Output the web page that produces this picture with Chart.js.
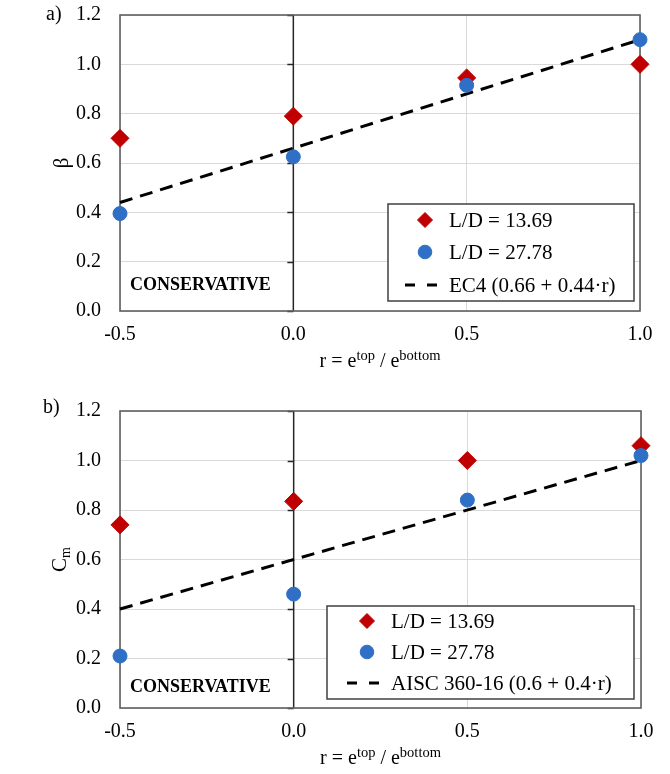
<!DOCTYPE html>
<html><head><meta charset="utf-8">
<script src="https://cdn.jsdelivr.net/npm/chart.js@4.4.1/dist/chart.umd.min.js"></script>
<style>
html,body{margin:0;padding:0;background:#fff;}
#wrap{position:relative;width:670px;height:774px;}
.panel{position:absolute;left:0;width:670px;}
canvas{display:block;}
</style></head><body>
<div id="wrap">
<div class="panel" style="top:0;height:390px"><canvas id="ca" width="670" height="390"></canvas></div>
<div class="panel" style="top:390px;height:384px"><canvas id="cb" width="670" height="384"></canvas></div>
</div>
<script>
// ---- data ----
const rValues = [-0.5, 0.0, 0.5, 1.0];
const betaLD1369 = [0.70, 0.79, 0.945, 1.00];
const betaLD2778 = [0.395, 0.625, 0.915, 1.10];
const ec4LineR = [-0.5, 1.0];
const ec4LineY = [0.44, 1.10];
const cmLD1369 = [0.74, 0.835, 1.00, 1.06];
const cmLD2778 = [0.21, 0.46, 0.84, 1.02];
const aiscLineR = [-0.5, 1.0];
const aiscLineY = [0.40, 1.00];
const xTickLabels = ['-0.5', '0.0', '0.5', '1.0'];
const yTickLabels = ['0.0', '0.2', '0.4', '0.6', '0.8', '1.0', '1.2'];
const seriesLabels = ['L/D = 13.69', 'L/D = 27.78'];
const lineLabels = ['EC4 (0.66 + 0.44\u00B7r)', 'AISC 360-16 (0.6 + 0.4\u00B7r)'];

const SERIF = "'Liberation Serif','Times New Roman',serif";
const RED = '#C00000';
const BLUE = '#2F6FC6';

function zip(xs, ys) { return xs.map((x, i) => ({x: x, y: ys[i]})); }

const deco = {
  id: 'deco',
  beforeDatasetsDraw(chart, args, o) {
    const {ctx, chartArea: a, scales: {x, y}} = chart;
    ctx.save();
    const x0 = x.getPixelForValue(0);
    ctx.strokeStyle = '#262626';
    ctx.lineWidth = 1.5;
    ctx.beginPath(); ctx.moveTo(x0, a.top); ctx.lineTo(x0, a.bottom); ctx.stroke();
    y.ticks.forEach(t => {
      const py = Math.round(y.getPixelForValue(t.value)) + 0.5;
      ctx.beginPath(); ctx.moveTo(x0 - 6, py); ctx.lineTo(x0, py); ctx.stroke();
    });
    ctx.strokeStyle = '#5f5f5f';
    ctx.lineWidth = 1.6;
    ctx.strokeRect(a.left, a.top, a.right - a.left, a.bottom - a.top);
    ctx.restore();
  },
  afterDraw(chart, args, o) {
    const {ctx, chartArea: a} = chart;
    ctx.save();
    ctx.fillStyle = '#000';
    // panel label
    ctx.font = '20px ' + SERIF;
    ctx.textBaseline = 'middle';
    ctx.textAlign = 'left';
    ctx.fillText(o.panel, o.panelX, o.panelY);
    // y title (rotated, optional subscript)
    ctx.save();
    ctx.translate(o.yTitleX, (a.top + a.bottom) / 2);
    ctx.rotate(-Math.PI / 2);
    ctx.font = '21px ' + SERIF;
    let wMain = ctx.measureText(o.yTitle).width;
    let wSub = 0;
    if (o.ySub) { ctx.font = '14px ' + SERIF; wSub = ctx.measureText(o.ySub).width; }
    const tot = wMain + wSub;
    ctx.textBaseline = 'alphabetic';
    ctx.font = '21px ' + SERIF;
    ctx.fillText(o.yTitle, -tot / 2, 7);
    if (o.ySub) { ctx.font = '14px ' + SERIF; ctx.fillText(o.ySub, -tot / 2 + wMain, 11); }
    ctx.restore();
    // x title with superscripts
    const parts = [['r = e', 20, 0], ['top', 14.5, -7], [' / e', 20, 0], ['bottom', 14.5, -7]];
    let w = 0;
    parts.forEach(p => { ctx.font = p[1] + 'px ' + SERIF; p.push(ctx.measureText(p[0]).width); w += p[3]; });
    let cx = (a.left + a.right) / 2 - w / 2;
    ctx.textBaseline = 'alphabetic';
    parts.forEach(p => { ctx.font = p[1] + 'px ' + SERIF; ctx.fillText(p[0], cx, o.xTitleBase + p[2]); cx += p[3]; });
    // CONSERVATIVE
    ctx.font = 'bold 18px ' + SERIF;
    ctx.textBaseline = 'middle';
    ctx.fillText('CONSERVATIVE', 130, o.consY);
    // legend box
    const L = o.legend;
    ctx.fillStyle = '#fff';
    ctx.fillRect(L.x1, L.y1, L.x2 - L.x1, L.y2 - L.y1);
    ctx.strokeStyle = '#404040';
    ctx.lineWidth = 1.5;
    ctx.strokeRect(L.x1, L.y1, L.x2 - L.x1, L.y2 - L.y1);
    const ds = chart.data.datasets;
    const items = [ds[1], ds[0], ds[2]];
    items.forEach((d, i) => {
      const ry = L.rows[i];
      if (d.type === 'line') {
        ctx.strokeStyle = '#000';
        ctx.lineWidth = 3;
        ctx.setLineDash([10, 12]);
        ctx.beginPath(); ctx.moveTo(L.dash[0], ry); ctx.lineTo(L.dash[1], ry); ctx.stroke();
        ctx.setLineDash([]);
      } else {
        ctx.fillStyle = d.backgroundColor;
        ctx.strokeStyle = d.borderColor;
        ctx.lineWidth = 1;
        Chart.helpers.drawPoint(ctx, {pointStyle: d.pointStyle, radius: d.pointStyle === 'rectRot' ? 7.5 : 6.8, rotation: 0, borderWidth: 1}, L.mx, ry);
      }
      ctx.fillStyle = '#000';
      ctx.font = '21px ' + SERIF;
      ctx.textBaseline = 'middle';
      ctx.fillText(d.label, L.tx, ry + 1);
    });
    ctx.restore();
  }
};

function makeChart(id, cfg) {
  return new Chart(document.getElementById(id), {
    type: 'scatter',
    data: {datasets: [
      {label: seriesLabels[1], data: zip(rValues, cfg.blue), pointStyle: 'circle', pointRadius: 7, backgroundColor: BLUE, borderColor: BLUE, borderWidth: 1, order: 1, clip: false},
      {label: seriesLabels[0], data: zip(rValues, cfg.red), pointStyle: 'rectRot', pointRadius: 9, backgroundColor: RED, borderColor: RED, borderWidth: 1, order: 2, clip: false},
      {type: 'line', label: cfg.lineLabel, data: zip(cfg.lineR, cfg.lineY), borderColor: '#000', borderWidth: 3, borderDash: [13, 8], pointRadius: 0, fill: false, order: 3, clip: false}
    ]},
    options: {
      responsive: false, animation: false, devicePixelRatio: 1, events: [],
      layout: {padding: {left: 60, right: cfg.padR, top: cfg.padT, bottom: 0}},
      plugins: {legend: {display: false}, tooltip: {enabled: false}, deco: cfg.deco},
      scales: {
        x: {type: 'linear', min: -0.5, max: 1.0,
            ticks: {stepSize: 0.5, callback: (v, i) => xTickLabels[i], font: {family: SERIF, size: 20}, color: '#000', padding: 12, maxRotation: 0, autoSkip: false},
            grid: {color: '#D9D9D9', lineWidth: 1, drawTicks: false}, border: {display: false},
            afterFit: s => { s.height = cfg.xH; s.paddingLeft = 0; s.paddingRight = 0; }},
        y: {type: 'linear', min: 0, max: 1.2,
            ticks: {stepSize: 0.2, callback: (v, i) => yTickLabels[i], font: {family: SERIF, size: 20}, color: '#000', padding: 19, autoSkip: false},
            grid: {color: '#D9D9D9', lineWidth: 1, drawTicks: false}, border: {display: false},
            afterFit: s => { s.width = 60; s.paddingTop = 0; s.paddingBottom = 0; }}
      }
    },
    plugins: [deco]
  });
}

makeChart('ca', {
  red: betaLD1369, blue: betaLD2778, lineR: ec4LineR, lineY: ec4LineY, lineLabel: lineLabels[0],
  padR: 30, padT: 15, xH: 79,
  deco: {panel: 'a)', panelX: 46, panelY: 15, yTitle: '\u03B2', ySub: '', yTitleX: 61, xTitleBase: 367, consY: 285,
         legend: {x1: 388, y1: 204, x2: 634, y2: 301, rows: [220, 252, 285], mx: 425, tx: 449, dash: [405, 437]}}
});
makeChart('cb', {
  red: cmLD1369, blue: cmLD2778, lineR: aiscLineR, lineY: aiscLineY, lineLabel: lineLabels[1],
  padR: 29, padT: 21, xH: 66,
  deco: {panel: 'b)', panelX: 43, panelY: 18, yTitle: 'C', ySub: 'm', yTitleX: 59, xTitleBase: 374, consY: 297,
         legend: {x1: 327, y1: 216, x2: 634, y2: 309, rows: [231, 262, 293], mx: 367, tx: 391, dash: [347, 380]}}
});
</script>
</body></html>
